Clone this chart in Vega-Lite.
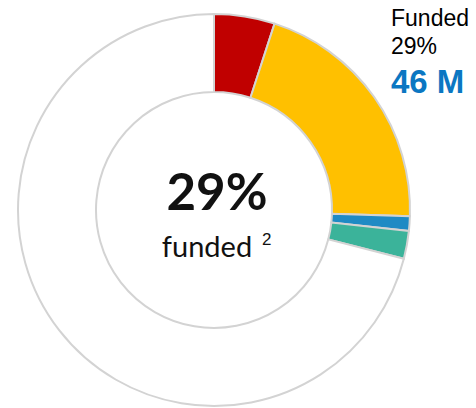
{
  "$schema": "https://vega.github.io/schema/vega-lite/v6.json",
  "width": 428,
  "height": 396,
  "autosize": "none",
  "padding": {"left": 0, "top": 12, "right": 48, "bottom": 0},
  "background": "white",
  "config": {"view": {"stroke": null}},
  "layer": [
    {
      "data": {"values": [
        {"segment": "A", "order": 1, "value": 5},
        {"segment": "B", "order": 2, "value": 20.5},
        {"segment": "C", "order": 3, "value": 1.2},
        {"segment": "D", "order": 4, "value": 2.3},
        {"segment": "Unfunded", "order": 5, "value": 71}
      ]},
      "mark": {"type": "arc", "outerRadius": 196, "innerRadius": 118, "stroke": "#d3d3d3", "strokeWidth": 2},
      "encoding": {
        "theta": {"field": "value", "type": "quantitative", "stack": true},
        "order": {"field": "order", "type": "quantitative"},
        "color": {
          "field": "segment", "type": "nominal", "legend": null,
          "scale": {"domain": ["A", "B", "C", "D", "Unfunded"], "range": ["#c00000", "#ffc000", "#1f8ac4", "#3bb39a", "#ffffff"]}
        }
      }
    },
    {
      "data": {"values": [{"t": "29%"}]},
      "mark": {"type": "text", "font": "Lato", "fontWeight": "bold", "fontSize": 51, "align": "center", "baseline": "alphabetic", "dx": 3, "dy": 0, "color": "#111111"},
      "encoding": {"text": {"field": "t"}}
    },
    {
      "data": {"values": [{"t": "funded"}]},
      "mark": {"type": "text", "font": "Lato", "fontSize": 29, "align": "center", "baseline": "alphabetic", "dx": -7, "dy": 47, "color": "#111111"},
      "encoding": {"text": {"field": "t"}}
    },
    {
      "data": {"values": [{"t": "2"}]},
      "mark": {"type": "text", "font": "Liberation Sans", "fontSize": 17, "align": "left", "baseline": "alphabetic", "dx": 48, "dy": 35, "color": "#111111"},
      "encoding": {"text": {"field": "t"}}
    },
    {
      "data": {"values": [{"t": "Funded"}]},
      "mark": {"type": "text", "font": "Liberation Sans", "fontSize": 23, "align": "left", "baseline": "alphabetic", "dx": 177, "dy": -184, "color": "#000000"},
      "encoding": {"text": {"field": "t"}}
    },
    {
      "data": {"values": [{"t": "29%"}]},
      "mark": {"type": "text", "font": "Liberation Sans", "fontSize": 23, "align": "left", "baseline": "alphabetic", "dx": 177, "dy": -156, "color": "#000000"},
      "encoding": {"text": {"field": "t"}}
    },
    {
      "data": {"values": [{"t": "46 M"}]},
      "mark": {"type": "text", "font": "Liberation Sans", "fontWeight": "bold", "fontSize": 33, "align": "left", "baseline": "alphabetic", "dx": 177, "dy": -117, "color": "#0b77c2"},
      "encoding": {"text": {"field": "t"}}
    }
  ]
}
